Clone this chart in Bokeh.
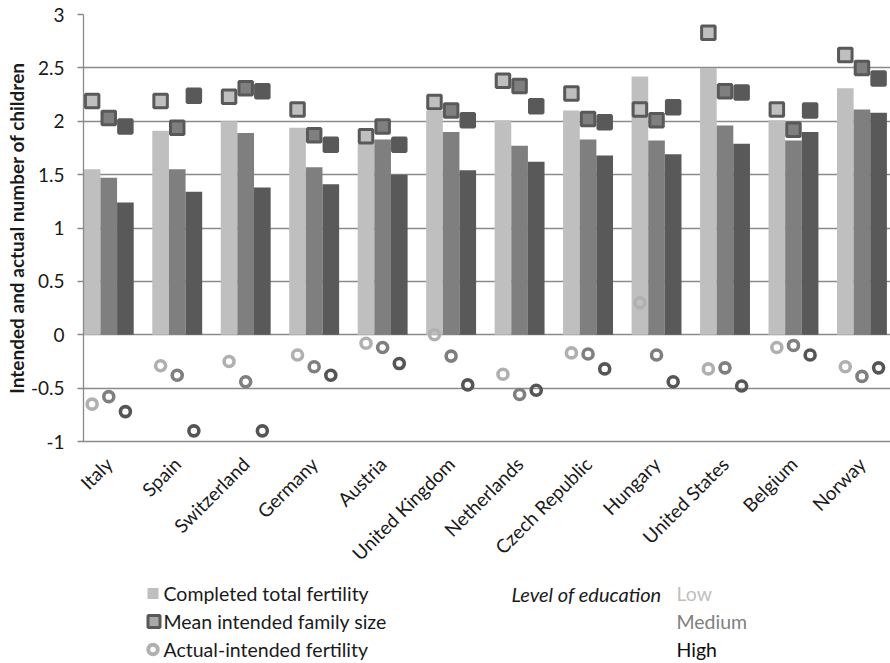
import numpy as np
from bokeh.plotting import figure
from bokeh.models import (ColumnDataSource, Range1d, FixedTicker, NumeralTickFormatter)
from bokeh.layouts import column
from bokeh.transform import dodge
from bokeh.core.properties import value
from bokeh.embed import file_html
from bokeh.resources import INLINE

# ---------------- data ----------------
countries = ["Italy", "Spain", "Switzerland", "Germany", "Austria", "United Kingdom",
             "Netherlands", "Czech Republic", "Hungary", "United States", "Belgium", "Norway"]

completed_low = [1.55, 1.91, 2.00, 1.94, 1.79, 2.10, 2.01, 2.10, 2.42, 2.50, 2.01, 2.31]
completed_med = [1.47, 1.55, 1.89, 1.57, 1.83, 1.90, 1.77, 1.83, 1.82, 1.96, 1.82, 2.11]
completed_high = [1.24, 1.34, 1.38, 1.41, 1.50, 1.54, 1.62, 1.68, 1.69, 1.79, 1.90, 2.08]

intended_low = [2.19, 2.19, 2.23, 2.11, 1.86, 2.18, 2.38, 2.26, 2.11, 2.83, 2.11, 2.62]
intended_med = [2.03, 1.94, 2.31, 1.87, 1.95, 2.10, 2.33, 2.02, 2.01, 2.28, 1.92, 2.50]
intended_high = [1.95, 2.24, 2.28, 1.78, 1.78, 2.01, 2.14, 1.99, 2.13, 2.27, 2.10, 2.40]

gap_low = [-0.65, -0.29, -0.25, -0.19, -0.08, 0.00, -0.37, -0.17, 0.30, -0.32, -0.12, -0.30]
gap_med = [-0.58, -0.38, -0.44, -0.30, -0.12, -0.20, -0.56, -0.18, -0.19, -0.31, -0.10, -0.39]
gap_high = [-0.72, -0.90, -0.90, -0.38, -0.27, -0.47, -0.52, -0.32, -0.44, -0.48, -0.19, -0.31]

y_ticks = [-1, -0.5, 0, 0.5, 1, 1.5, 2, 2.5, 3]
levels = ["Low", "Medium", "High"]
legend_labels = ["Completed total fertility", "Mean intended family size", "Actual-intended fertility"]

# ---------------- styles ----------------
C_LOW, C_MED, C_HIGH = "#bfbfbf", "#7f7f7f", "#595959"
RING_LOW, RING_MED, RING_HIGH = "#b0b0b0", "#7f7f7f", "#555555"
GRID = "#8a8a8a"
FONT = "Lato"
TXT = "#1a1a1a"

W_PAGE = 890
H_MAIN = 575
H_LEG = 88
LEFT = 83

src = ColumnDataSource(dict(
    xi=list(range(len(countries))),
    cl=completed_low, cm=completed_med, ch=completed_high,
    il=intended_low, im=intended_med, ih=intended_high,
    gl=gap_low, gm=gap_med, gh=gap_high,
))

p = figure(width=W_PAGE, height=H_MAIN,
           x_range=Range1d(-0.369, 11.417), y_range=Range1d(-1, 3),
           output_backend="svg", toolbar_location=None,
           min_border_left=LEFT, min_border_right=0, min_border_top=14, min_border_bottom=133)
p.outline_line_color = None
p.background_fill_color = "white"
p.border_fill_color = "white"

OFF = 0.243
W = 0.243
xs = [dodge("xi", -OFF, range=p.x_range), dodge("xi", 0, range=p.x_range), dodge("xi", OFF, range=p.x_range)]

# bars
for x, col, c in zip(xs, ["cl", "cm", "ch"], [C_LOW, C_MED, C_HIGH]):
    p.vbar(x=x, top=col, bottom=0, width=W, source=src, fill_color=c, line_color=None)

# intended (squares)
for x, col, c in zip(xs, ["il", "im", "ih"], [C_LOW, C_MED, C_HIGH]):
    p.scatter(x=x, y=col, source=src, marker="square", size=13.5,
              fill_color=c, line_color=C_HIGH, line_width=3)

# actual - intended (rings)
for x, col, c in zip(xs, ["gl", "gm", "gh"], [RING_LOW, RING_MED, RING_HIGH]):
    p.scatter(x=x, y=col, source=src, marker="circle", size=10,
              fill_color=None, line_color=c, line_width=3.6)

# grid
p.xgrid.visible = False
p.ygrid.ticker = FixedTicker(ticks=y_ticks)
p.ygrid.grid_line_color = GRID
p.ygrid.grid_line_width = 1.3

# y axis
p.yaxis.ticker = FixedTicker(ticks=y_ticks)
p.yaxis.formatter = NumeralTickFormatter(format="0.[0]")
p.yaxis.axis_label = "Intended and actual number of children"
p.yaxis.axis_label_text_font = FONT
p.yaxis.axis_label_text_font_style = "bold"
p.yaxis.axis_label_text_font_size = "19px"
p.yaxis.axis_label_text_color = TXT
p.yaxis.axis_label_standoff = 0
p.yaxis.major_label_text_font = FONT
p.yaxis.major_label_text_font_size = "19px"
p.yaxis.major_label_text_color = TXT
p.yaxis.major_label_standoff = 13
p.yaxis.axis_line_color = GRID
p.yaxis.axis_line_width = 1.3
p.yaxis.major_tick_line_color = GRID
p.yaxis.major_tick_line_width = 1.3
p.yaxis.major_tick_out = 6
p.yaxis.major_tick_in = 0
p.yaxis.minor_tick_line_color = None

# x axis
p.xaxis.ticker = FixedTicker(ticks=list(range(len(countries))))
p.xaxis.major_label_overrides = {i: n for i, n in enumerate(countries)}
p.xaxis.major_label_orientation = np.pi / 4
p.xaxis.major_label_text_font = FONT
p.xaxis.major_label_text_font_size = "19px"
p.xaxis.major_label_text_color = TXT
p.xaxis.major_label_standoff = 13
p.xaxis.axis_line_color = GRID
p.xaxis.axis_line_width = 1.3
p.xaxis.major_tick_line_color = None
p.xaxis.minor_tick_line_color = None

# ---------------- legend panel (page-pixel coordinates) ----------------
lf = figure(width=W_PAGE, height=H_LEG,
            x_range=Range1d(LEFT, W_PAGE), y_range=Range1d(H_MAIN + H_LEG, H_MAIN),
            output_backend="svg", toolbar_location=None,
            min_border_left=LEFT, min_border_right=0, min_border_top=0, min_border_bottom=0)
lf.axis.visible = False
lf.grid.visible = False
lf.outline_line_color = None

row_y = [593, 621, 649]
mx = 152.5
lf.scatter(x=[mx], y=[row_y[0]], marker="square", size=11, fill_color=C_LOW, line_color=None)
lf.scatter(x=[mx + 1], y=[row_y[1]], marker="square", size=12, fill_color="#a8a8a8",
           line_color=C_HIGH, line_width=3)
lf.scatter(x=[mx], y=[row_y[2]], marker="circle", size=9.5, fill_color=None,
           line_color=RING_LOW, line_width=4)
lf.text(x=[163] * 3, y=row_y, text=legend_labels, text_font=value(FONT),
        text_font_size="19.5px", text_color=TXT, text_baseline="middle", text_align="left")
lf.text(x=[511], y=[row_y[0]], text=["Level of education"], text_font=value(FONT),
        text_font_size="20px", text_font_style="italic", text_color=TXT,
        text_baseline="middle", text_align="left")
lf.text(x=[676] * 3, y=row_y, text=levels, text_font=value(FONT),
        text_font_size="19.5px", text_color=[C_LOW, "#7f7f7f", "#0d0d0d"],
        text_baseline="middle", text_align="left")

layout = column(p, lf, spacing=0)
open("out.html", "w").write(file_html(layout, INLINE))
